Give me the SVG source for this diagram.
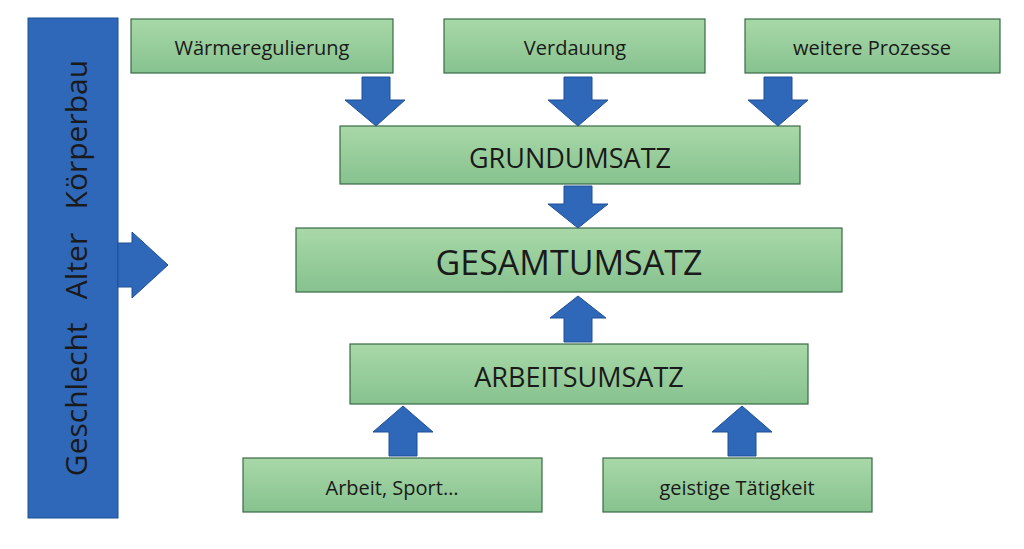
<svg xmlns="http://www.w3.org/2000/svg" width="1024" height="549" viewBox="0 0 1024 549">
<defs>
<linearGradient id="g" x1="0" y1="0" x2="0" y2="1"><stop offset="0" stop-color="#a9d8a8"/><stop offset="1" stop-color="#86c28f"/></linearGradient>
<style>
.box{fill:url(#g);stroke:#3a6a45;stroke-width:1.2}
.t{font-family:"Open Sans","Liberation Sans",sans-serif;fill:#1a1a1a;text-anchor:middle;dominant-baseline:central}
.ar{fill:#2f68b8;stroke:#1f4f96;stroke-width:1}
</style>
</defs>
<rect width="1024" height="549" fill="#fff"/>
<g id="factors">
<rect x="28" y="18" width="90" height="500" fill="#2f68b8" stroke="#1f4f96"/>
<text class="t" transform="translate(75,268) rotate(-90)" font-size="30" xml:space="preserve">Geschlecht   Alter   Körperbau</text>
</g>
<g id="n1"><rect class="box" x="131" y="19" width="262" height="54"/><text class="t" x="262" y="47" font-size="20">Wärmeregulierung</text></g>
<g id="n2"><rect class="box" x="444" y="19" width="261" height="54"/><text class="t" x="575" y="47" font-size="20">Verdauung</text></g>
<g id="n3"><rect class="box" x="745" y="19" width="255" height="54"/><text class="t" x="872" y="47" font-size="20">weitere Prozesse</text></g>
<g id="grund"><rect class="box" x="340" y="126" width="460" height="58"/><text class="t" x="570" y="157" font-size="27">GRUNDUMSATZ</text></g>
<g id="gesamt"><rect class="box" x="296" y="228" width="546" height="64"/><text class="t" x="569" y="262" font-size="34">GESAMTUMSATZ</text></g>
<g id="arbeits"><rect class="box" x="350" y="344" width="458" height="60"/><text class="t" x="579" y="376" font-size="27">ARBEITSUMSATZ</text></g>
<g id="n4"><rect class="box" x="243" y="458" width="299" height="54"/><text class="t" x="392" y="487" font-size="20">Arbeit, Sport…</text></g>
<g id="n5"><rect class="box" x="603" y="458" width="269" height="54"/><text class="t" x="737" y="487" font-size="20">geistige Tätigkeit</text></g>
<g id="connectors">
<path class="ar" d="M118,243 H132 V232 L168,265 L132,298 V287 H118 Z"/>
<path class="ar" d="M362,77 H390 V100 H405 L376,126 L345,100 H362 Z"/>
<path class="ar" d="M564,77 H592 V100 H608 L578,126 L548,100 H564 Z"/>
<path class="ar" d="M764,77 H792 V100 H808 L778,126 L748,100 H764 Z"/>
<path class="ar" d="M564,186 H592 V204 H608 L578,228 L548,204 H564 Z"/>
<path class="ar" d="M564,342 H592 V318 H606 L578,296 L550,318 H564 Z"/>
<path class="ar" d="M389,456 H417 V432 H433 L403,406 L373,432 H389 Z"/>
<path class="ar" d="M728,456 H756 V432 H772 L742,406 L712,432 H728 Z"/>
</g>
</svg>
